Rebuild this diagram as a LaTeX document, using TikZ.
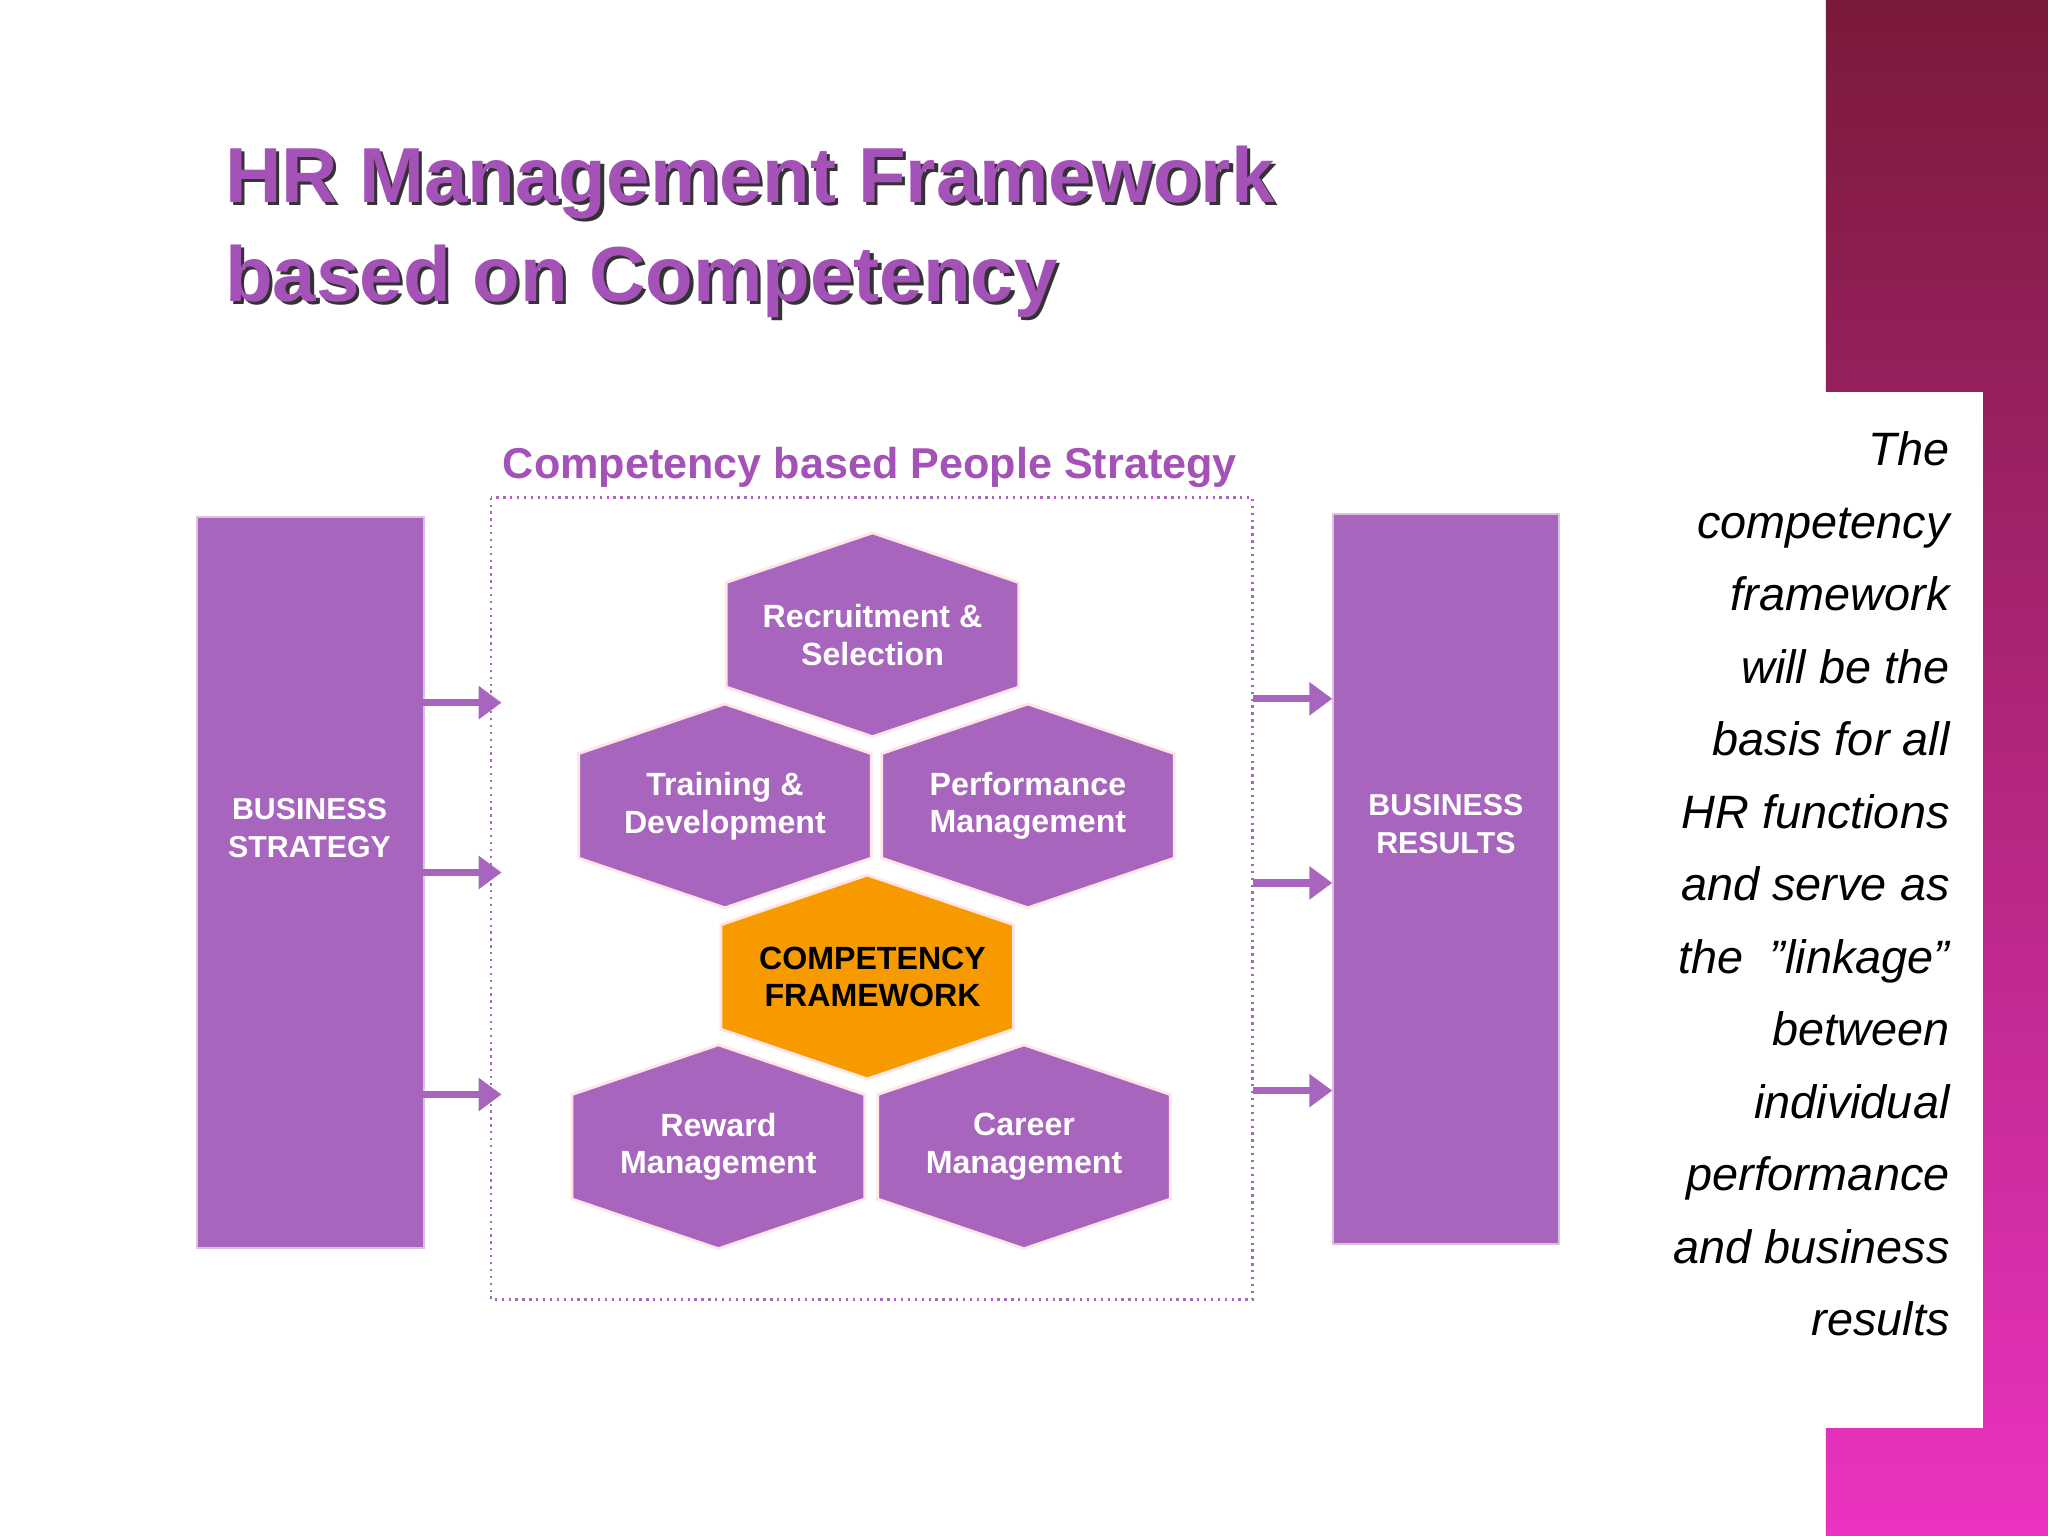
\documentclass[tikz,border=0pt]{standalone}
\usepackage{fontspec}
\setmainfont{Liberation Sans}
\usetikzlibrary{arrows.meta}
\definecolor{pur}{HTML}{A865BD}
\definecolor{ttl}{HTML}{A452B8}
\definecolor{org}{HTML}{F79A00}
\tikzset{
 box/.style={fill=pur,draw=pur!40},
 btxt/.style={text=white,font=\bfseries\fontsize{7}{8.2}\selectfont,align=center},
 hx/.style={draw=pink!40,line width=0.6pt},
 arr/.style={draw=pur,line width=1.6pt,-{Triangle[length=5pt,width=7pt]}},
}
\newcommand\myhex[5]{%
 \fill[#4,hx] (#2-1.12,-#3+0.40) -- (#2,-#3+0.78) -- (#2+1.12,-#3+0.40) -- (#2+1.12,-#3-0.40) -- (#2,-#3-0.78) -- (#2-1.12,-#3-0.40) -- cycle;
 \node[btxt] (#1) at (#2,-#3) {#5};}
\begin{document}
\begin{tikzpicture}[x=1cm,y=1cm]
\useasboundingbox (0,0) rectangle (15.68,-11.76);
\fill[white] (0,0) rectangle (15.68,-11.76);
\shade[top color=black!20!purple!70!black!90, bottom color=magenta!60!purple!80!white] (13.98,0) rectangle (15.68,-11.76);
\fill[white] (12.7,-3.0) rectangle (15.18,-10.93);
% title
\foreach \dx/\c in {0.025/black!80, 0/ttl}{
\node[anchor=base west,text=\c,font=\bfseries\fontsize{17}{20}\selectfont] at (1.6+\dx,-1.55-\dx) {HR Management Framework};
\node[anchor=base west,text=\c,font=\bfseries\fontsize{17}{20}\selectfont] at (1.6+\dx,-2.31-\dx) {based on Competency};}
% boxes
\node[box,minimum width=1.74cm,minimum height=5.6cm,anchor=north west] (bs) at (1.50,-3.95) {};
\node[btxt,font=\bfseries\fontsize{6.6}{8.2}\selectfont] at (2.37,-6.34) {BUSINESS\\STRATEGY};
\node[box,minimum width=1.73cm,minimum height=5.59cm,anchor=north west] (br) at (10.20,-3.93) {};
\node[btxt,font=\bfseries\fontsize{6.6}{8.2}\selectfont] at (11.07,-6.31) {BUSINESS\\RESULTS};
\draw[pur,densely dotted,line width=0.5pt] (3.76,-3.81) rectangle (9.59,-9.95);
\node[text=ttl,font=\bfseries\fontsize{9.4}{11}\selectfont] (hd) at (6.66,-3.58) {Competency based People Strategy};
% arrows
\foreach \y in {5.38,6.68,8.38}{\draw[arr] (3.24,-\y) -- (3.84,-\y);}
\foreach \y in {5.35,6.76,8.35}{\draw[arr] (9.59,-\y) -- (10.20,-\y);}
% hexagons
\myhex{rs}{6.68}{4.86}{pur}{Recruitment \&\\Selection}
\myhex{td}{5.55}{6.17}{pur}{Training \&\\Development}
\myhex{pm}{7.87}{6.17}{pur}{Performance\\Management}
\fill[org,hx] (6.64-1.12,-7.48+0.40) -- (6.64,-7.48+0.78) -- (6.64+1.12,-7.48+0.40) -- (6.64+1.12,-7.48-0.40) -- (6.64,-7.48-0.78) -- (6.64-1.12,-7.48-0.40) -- cycle;
\node[btxt,text=black] (cf) at (6.68,-7.48) {COMPETENCY\\FRAMEWORK};
\myhex{rm}{5.50}{8.78}{pur}{Reward\\Management}
\myhex{cm}{7.84}{8.78}{pur}{Career\\Management}
% side text
\node[anchor=north east,align=right,font=\itshape\fontsize{10.2}{15.8}\selectfont] (st) at (15.05,-3.18) {The\\competency\\framework\\will be the\\basis for all\\HR functions\\and serve as\\the \ "linkage"\\between\\individual\\performance\\and business\\results};
\end{tikzpicture}
\end{document}
